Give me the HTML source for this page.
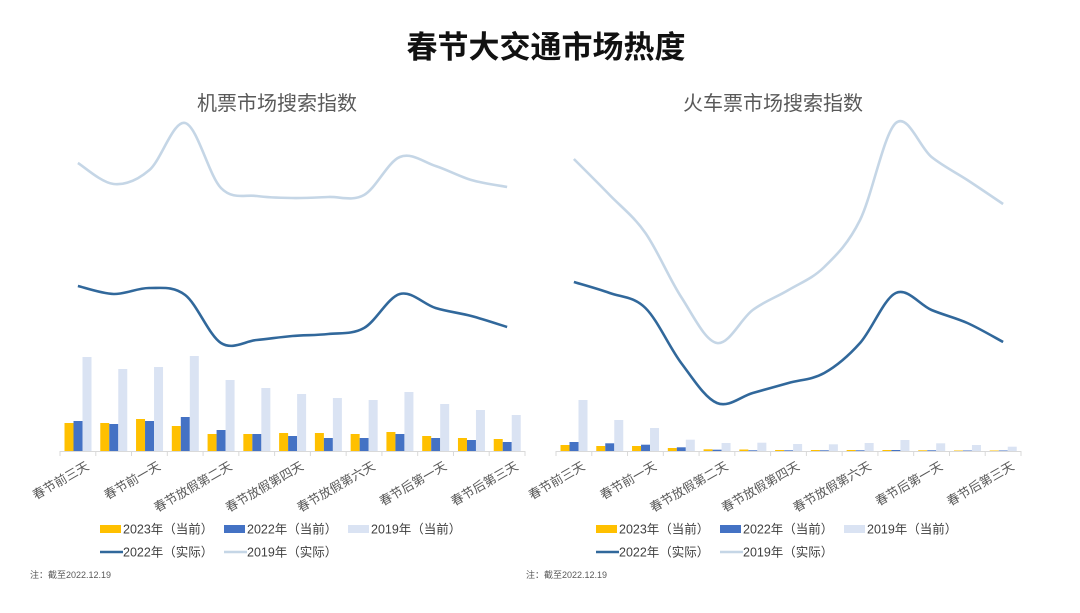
<!DOCTYPE html>
<html><head><meta charset="utf-8"><style>
body{margin:0;background:#fff;width:1080px;height:608px;overflow:hidden;font-family:"Liberation Sans","Noto Sans CJK SC",sans-serif}
</style></head><body>
<svg id="c" width="1080" height="608" xmlns="http://www.w3.org/2000/svg" font-family="Liberation Sans, Noto Sans CJK SC, sans-serif">
<text x="546" y="58" text-anchor="middle" font-size="31" font-weight="bold" fill="#111">春节大交通市场热度</text>
</svg>
<script>
const categories=["春节前三天","春节前二天","春节前一天","春节放假第一天","春节放假第二天","春节放假第三天","春节放假第四天","春节放假第五天","春节放假第六天","春节放假第七天","春节后第一天","春节后第二天","春节后第三天"];
const flight2023=[28,28,32,25,17,17,18,18,17,19,15,13,12];
const flight2022=[30,27,30,34,21,17,15,13,13,17,13,11,9];
const flight2019=[94,82,84,95,71,63,57,53,51,59,47,41,36];
const flightLine2022=[165,157,163,156,108,111,115,117,123,157,143,135,124];
const flightLine2019=[288,267,281,328,263,255,253,254,256,294,285,271,264];
const train2023=[6,5,5,3,1.7,1.5,1,1,1,1,0.7,0.5,0.5];
const train2022=[9,7.7,6.3,3.7,1.3,0.7,0.7,0.7,0.7,1,0.7,0.5,0.5];
const train2019=[51,31,23,11.3,8,8.3,7,6.7,8,11,7.7,6,4.3];
const trainLine2022=[169,158,143,88,48,58,68,78,108,158,141,128,109];
const trainLine2019=[292,256,218,154,108,141,161,184,231,328,294,271,247];
const NS="http://www.w3.org/2000/svg";
const svg=document.getElementById('c');
function mk(tag,attrs,parent){const e=document.createElementNS(NS,tag);for(const k in attrs)e.setAttribute(k,attrs[k]);(parent||svg).appendChild(e);return e;}
function smooth(pts){let d=`M${pts[0][0]},${pts[0][1]}`;for(let i=0;i<pts.length-1;i++){const p0=pts[i-1]||pts[i],p1=pts[i],p2=pts[i+1],p3=pts[i+2]||p2;const t=6;d+=` C${p1[0]+(p2[0]-p0[0])/t},${p1[1]+(p2[1]-p0[1])/t} ${p2[0]-(p3[0]-p1[0])/t},${p2[1]-(p3[1]-p1[1])/t} ${p2[0]},${p2[1]}`;}return d;}
function panel(ox,title,b23,b22,b19,l22,l19,key){
  const g=mk('g',{});
  
  
  const x0=ox+60,w=465,base=451,cw=w/categories.length;
  const xS=i=>x0+cw*i, yS=v=>base-v;
  const t=mk('text',{x:ox+277,y:110,'text-anchor':'middle','font-size':20,fill:'#595959'},g);t.textContent=title;
  
  
  const ax=mk('line',{x1:x0,x2:x0+w,y1:base+0.5,y2:base+0.5,stroke:'#d9d9d9'},g);
  
  
  categories.forEach((c,i)=>{
    mk('line',{x1:xS(i),x2:xS(i),y1:base,y2:base+5,stroke:'#d9d9d9'},g);
    [[b23,'#FFC000'],[b22,'#4472C4'],[b19,'#DAE3F3']].forEach(([arr,col],k)=>{
      const r=mk('rect',{x:xS(i)+4.5+k*9,y:yS(arr[i]),width:9,height:arr[i],fill:col},g);
      
      
    });
    if(i%2===0){const cx=xS(i)+cw/2+7,cy=base+9;
      const tl=mk('text',{x:cx,y:cy,'text-anchor':'end','font-size':12.5,fill:'#595959',transform:`rotate(-30 ${cx} ${cy})`,dy:'0.8em'},g);tl.textContent=c;
      
      }
  });
  mk('line',{x1:x0+w,x2:x0+w,y1:base,y2:base+5,stroke:'#d9d9d9'},g);
  [[l19,'#C5D6E6'],[l22,'#31689B']].forEach(([arr,col],k)=>{
    const p=mk('path',{d:smooth(arr.map((v,i)=>[xS(i)+cw/2,yS(v)])),fill:'none',stroke:col,'stroke-width':2.6},g);
    
    
  });
  const leg=[[100,529,'#FFC000','2023年（当前）','rect'],[224,529,'#4472C4','2022年（当前）','rect'],[348,529,'#DAE3F3','2019年（当前）','rect'],[100,552,'#31689B','2022年（实际）','line'],[224,552,'#C5D6E6','2019年（实际）','line']];
  leg.forEach(([lx,ly,col,txt,ty])=>{
    if(ty==='rect')mk('rect',{x:ox+lx,y:ly-4,width:21,height:8,fill:col},g);
    else mk('line',{x1:ox+lx,x2:ox+lx+23,y1:ly,y2:ly,stroke:col,'stroke-width':2.6},g);
    const lt=mk('text',{x:ox+lx+23,y:ly+4.5,'font-size':12.5,fill:'#404040'},g);lt.textContent=txt;
    
    
  });
  const n=mk('text',{x:ox+30,y:578,'font-size':9,fill:'#595959'},g);n.textContent='注：截至2022.12.19';
  
  
}
panel(0,'机票市场搜索指数',flight2023,flight2022,flight2019,flightLine2022,flightLine2019,'flight');
panel(496,'火车票市场搜索指数',train2023,train2022,train2019,trainLine2022,trainLine2019,'train');
</script>
</body></html>
